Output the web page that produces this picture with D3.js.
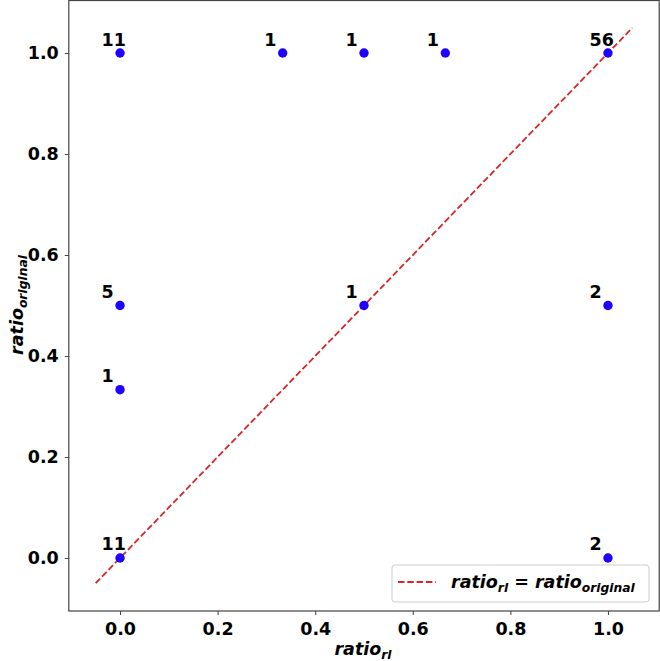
<!DOCTYPE html>
<html>
<head>
<meta charset="utf-8">
<script src="https://cdn.jsdelivr.net/npm/d3@7"></script>
<style>
  body { margin: 0; background: #fff; }
  text { font-family: "DejaVu Sans", sans-serif; font-weight: bold; }
</style>
</head>
<body>
<svg id="chart" width="660" height="661"></svg>
<script>
// data
var ratioRl       = [0, 0.3333, 0.5, 0.6667, 1, 0, 0.5, 1, 0, 0, 1];
var ratioOriginal = [1, 1, 1, 1, 1, 0.5, 0.5, 0.5, 0.3333, 0, 0];
var counts        = [11, 1, 1, 1, 56, 5, 1, 2, 1, 11, 2];
var tickValues = [0, 0.2, 0.4, 0.6, 0.8, 1.0];
var diagLine = [-0.05, 1.05];

var svg = d3.select("#chart");
var fs = "17.5px", subFs = "12.3px";

// plot box
var x = d3.scaleLinear().domain([-0.105, 1.105]).range([68.8, 659.2]);
var y = d3.scaleLinear().domain([-0.105, 1.105]).range([611, 0]);

var points = ratioRl.map(function(d, i) {
  return {x: d, y: ratioOriginal[i], n: counts[i]};
});

// axes
var xAxis = d3.axisBottom(x).tickValues(tickValues).tickFormat(d3.format(".1f")).tickSize(4).tickPadding(7);
var yAxis = d3.axisLeft(y).tickValues(tickValues).tickFormat(d3.format(".1f")).tickSize(4).tickPadding(6);

var gx = svg.append("g").attr("transform", "translate(0,611)").call(xAxis);
var gy = svg.append("g").attr("transform", "translate(68.8,0)").call(yAxis);
[gx, gy].forEach(function(g) {
  g.select(".domain").remove();
  g.selectAll("line").attr("stroke", "#444");
  g.selectAll("text").attr("fill", "#000").style("font-size", fs).style("font-weight", "bold")
    .style("font-family", "DejaVu Sans");
});
gx.selectAll("text").attr("dy", "0.75em");

// diagonal
svg.append("line")
  .attr("x1", x(diagLine[0])).attr("y1", y(diagLine[0]))
  .attr("x2", x(diagLine[1])).attr("y2", y(diagLine[1]))
  .attr("stroke", "#d62728").attr("stroke-width", 1.8)
  .attr("stroke-dasharray", "6.5,2.8");

// points
svg.selectAll(".pt").data(points).enter().append("circle")
  .attr("class", "pt")
  .attr("cx", function(d) { return x(d.x); })
  .attr("cy", function(d) { return y(d.y); })
  .attr("r", 4.7)
  .attr("fill", "#1e00ff");

// count labels
svg.selectAll(".lbl").data(points).enter().append("text")
  .attr("class", "lbl")
  .attr("x", function(d) { return x(d.x) - 18.5; })
  .attr("y", function(d) { return y(d.y) - 7.5; })
  .style("font-size", fs)
  .attr("fill", "#000")
  .text(function(d) { return d.n; });

// frame
svg.append("rect")
  .attr("x", 68.8).attr("y", 0.5)
  .attr("width", 659.2 - 68.8).attr("height", 610.5)
  .attr("fill", "none").attr("stroke", "#444").attr("stroke-width", 1.2);

// axis labels
function ratioLabel(sel, sub) {
  sel.style("font-size", fs).style("font-style", "italic");
  sel.append("tspan").text("ratio");
  sel.append("tspan").attr("dy", 4).style("font-size", subFs).text(sub);
}
svg.append("text")
  .attr("x", 363).attr("y", 655).attr("text-anchor", "middle")
  .call(ratioLabel, "rl");
svg.append("text")
  .attr("transform", "translate(23,305) rotate(-90)").attr("text-anchor", "middle")
  .call(ratioLabel, "original");

// legend
var lg = svg.append("g");
lg.append("rect")
  .attr("x", 392).attr("y", 565).attr("width", 257).attr("height", 37).attr("rx", 3)
  .attr("fill", "#fff").attr("fill-opacity", 0.8).attr("stroke", "#ccc");
lg.append("line")
  .attr("x1", 398).attr("x2", 436).attr("y1", 582).attr("y2", 582)
  .attr("stroke", "#d62728").attr("stroke-width", 1.8).attr("stroke-dasharray", "6.5,2.8");
var lt = lg.append("text").attr("x", 451).attr("y", 588)
  .style("font-size", fs).style("font-style", "italic");
lt.append("tspan").text("ratio");
lt.append("tspan").attr("dy", 4).style("font-size", subFs).text("rl");
lt.append("tspan").attr("dy", -4).text(" = ratio");
lt.append("tspan").attr("dy", 4).style("font-size", subFs).text("original");
</script>
</body>
</html>
